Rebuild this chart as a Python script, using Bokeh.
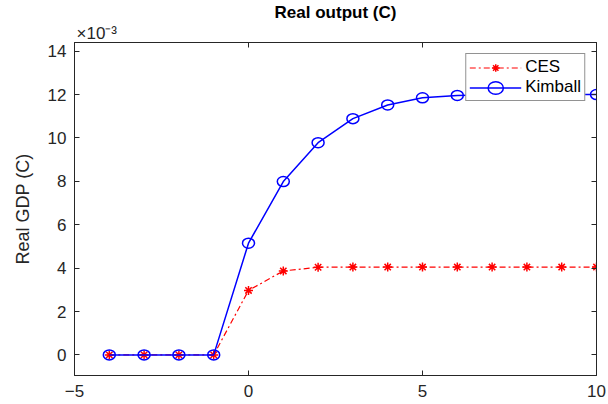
from bokeh.plotting import figure
from bokeh.models import Range1d, FixedTicker, Legend, LegendItem, LinearAxis, CustomJSTickFormatter, Title
from bokeh.embed import file_html
from bokeh.resources import INLINE

periods = [-4, -3, -2, -1, 0, 1, 2, 3, 4, 5, 6, 7, 8, 9, 10]
ces = [0, 0, 0, 0, 2.97, 3.87, 4.04, 4.05, 4.05, 4.05, 4.05, 4.05, 4.05, 4.05, 4.05]
kimball = [0, 0, 0, 0, 5.15, 7.99, 9.78, 10.89, 11.52, 11.85, 11.96, 11.99, 12.0, 12.0, 12.0]
x_ticks = [-5, 0, 5, 10]
y_ticks = [0, 2, 4, 6, 8, 10, 12, 14]
x_lim = (-5, 10)
y_lim = (-0.95, 14.4)

FONT = "Liberation Sans"
AX = "#262626"

p = figure(width=608, height=404, output_backend="svg", toolbar_location=None,
           x_range=Range1d(*x_lim), y_range=Range1d(*y_lim),
           title="Real output (C)",
           min_border_left=74, min_border_right=12, min_border_top=36, min_border_bottom=29)
p.title.align = "center"
p.title.text_font = FONT
p.title.text_font_size = "17px"
p.title.text_font_style = "bold"
p.title.text_color = "black"
p.title.standoff = 0
p.title.offset = 0
p.xgrid.visible = False
p.ygrid.visible = False
p.outline_line_color = AX
p.outline_line_width = 1
p.background_fill_color = "white"
p.border_fill_color = "white"

for ax, ticks in ((p.xaxis[0], x_ticks), (p.yaxis[0], y_ticks)):
    ax.ticker = FixedTicker(ticks=ticks)
    ax.major_tick_in = 5
    ax.major_tick_out = 0
    ax.minor_tick_line_color = None
    ax.axis_line_color = AX
    ax.major_tick_line_color = AX
    ax.major_label_text_color = AX
    ax.major_label_text_font = FONT
    ax.major_label_text_font_size = "17px"

p.xaxis.major_label_standoff = 9
p.yaxis.major_label_standoff = 8
p.yaxis.axis_label = "Real GDP (C)"
p.yaxis.axis_label_text_font = FONT
p.yaxis.axis_label_text_font_size = "18px"
p.yaxis.axis_label_text_font_style = "normal"
p.yaxis.axis_label_text_color = AX
p.yaxis.axis_label_standoff = 12

blank = CustomJSTickFormatter(code="return ''")
top = LinearAxis(ticker=FixedTicker(ticks=x_ticks), major_tick_in=5, major_tick_out=0,
                 minor_tick_line_color=None, formatter=blank, major_label_standoff=0,
                 axis_line_color=AX, major_tick_line_color=AX)
right = LinearAxis(ticker=FixedTicker(ticks=y_ticks), major_tick_in=5, major_tick_out=0,
                   minor_tick_line_color=None, formatter=blank, major_label_standoff=0,
                   axis_line_color=AX, major_tick_line_color=AX)
p.add_layout(top, "above")
p.add_layout(right, "right")

scale_note = Title(text="×10⁻³", align="left", text_font=FONT, text_font_size="17px",
                   text_font_style="normal", text_color=AX, standoff=0, offset=2)
p.add_layout(scale_note, "above")

l1 = p.line(periods, ces, color="#ff0000", line_width=1.2, line_dash="6 3 2 3")
m1 = p.scatter(periods, ces, marker="asterisk", size=9, line_color="#ff0000", line_width=1.5)
l2 = p.line(periods, kimball, color="#0000ff", line_width=1.5)
m2 = p.ellipse(periods, kimball, width=12, height=10, width_units="screen", height_units="screen",
               fill_color=None, line_color="#0000ff", line_width=1.5)

legend = Legend(items=[LegendItem(label="CES", renderers=[l1, m1]),
                       LegendItem(label="Kimball", renderers=[l2, m2])],
                location="top_right", margin=11, padding=3, spacing=0,
                glyph_width=52, glyph_height=19, label_height=19,
                label_text_font=FONT, label_text_font_size="17px", label_text_color="black",
                border_line_color=AX, border_line_width=1, background_fill_alpha=1,
                label_standoff=4)
p.add_layout(legend)

open("out.html", "w").write(file_html(p, INLINE))
